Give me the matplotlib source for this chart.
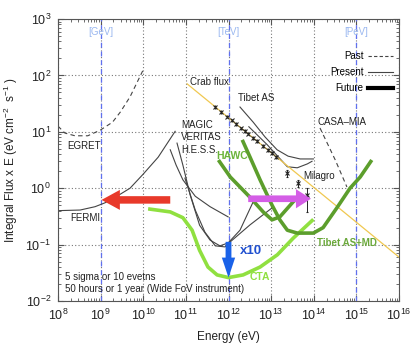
import matplotlib
matplotlib.use("Agg")
import matplotlib.pyplot as plt
from matplotlib.lines import Line2D

plt.rcParams['font.family'] = ['Liberation Sans', 'DejaVu Sans']
plt.rcParams['mathtext.fontset'] = 'custom'
plt.rcParams['mathtext.rm'] = 'Liberation Sans'
plt.rcParams['mathtext.it'] = 'Liberation Sans:italic'
plt.rcParams['mathtext.bf'] = 'Liberation Sans:bold'

# ---------------- data (energy in eV, flux in eV cm^-2 s^-1) ----------------
egret_E = [1.0e8, 1.45e8, 2.5e8, 5.0e8, 9.8e8, 1.9e9, 2.9e9, 4.9e9, 1.0e10]
egret_F = [12.6, 9.5, 8.5, 8.5, 10.7, 14.8, 22.4, 41.7, 126]

fermi_E = [1.0e8, 3.3e8, 7.4e8, 1.26e9, 2.2e9, 4.9e9, 1.0e10, 2.24e10, 5.6e10]
fermi_F = [0.40, 0.41, 0.47, 0.55, 0.69, 1.0, 1.78, 3.55, 10.2]

iact1_E = [4.3e10, 5.9e10, 8.5e10, 1.66e11, 3.7e11, 9.8e11]
iact1_F = [4.8, 2.57, 1.41, 0.72, 0.47, 0.31]

iact2_E = [6.2e10, 8.5e10, 1.26e11, 2.1e11, 3.7e11, 6.3e11, 9.8e11, 1.86e12, 3.8e12]
iact2_F = [6.3, 2.57, 0.76, 0.22, 0.12, 0.095, 0.107, 0.18, 0.575]

iact3_E = [9.5e10, 1.66e11, 2.8e11, 4.9e11, 8.3e11, 1.1e12, 3.2e12, 1.05e13]
iact3_F = [1.51, 0.41, 0.166, 0.095, 0.091, 0.112, 0.224, 0.447]

crab_line_E = [1.07e11, 1.0e16]
crab_line_F = [70.8, 0.060]

crab_pts_E = [4.9e11, 6.8e11, 9.3e11, 1.2e12, 1.5e12, 2.0e12, 2.45e12, 2.9e12,
              3.8e12, 4.7e12, 6.5e12, 8.5e12, 1.05e13, 1.32e13]
crab_pts_F = [27.7, 22.7, 18.6, 15.9, 13.8, 11.6, 10.3, 9.3, 7.8, 6.9, 5.6, 4.8, 4.2, 3.6]
crab_pts_err = [2.0, 1.6, 1.3, 1.1, 1.0, 0.8, 0.7, 0.7, 0.6, 0.5, 0.4, 0.4, 0.3, 0.3]

milagro_pts_E = [2.4e13, 4.3e13, 7.1e13]
milagro_pts_F = [1.86, 1.23, 0.76]
milagro_err_lo = [0.25, 0.18, 0.38]
milagro_err_hi = [0.25, 0.18, 0.24]

tibet_E = [1.86e12, 3.8e12, 7.2e12, 1.38e13, 2.5e13, 4.8e13, 9.8e13]
tibet_F = [27.5, 14.8, 8.1, 4.8, 3.7, 3.3, 3.3]

milagro_E = [3.0e12, 8.1e12, 2.4e13, 4.1e13, 7.1e13, 9.1e13]
milagro_F = [12.3, 5.9, 2.4, 2.3, 2.7, 3.0]

casa_E = [1.4e14, 3.2e14, 6.0e14]
casa_F = [11.7, 3.16, 1.05]

cta_E = [1.3e10, 4.3e10, 8.5e10, 1.4e11, 2.1e11, 3.3e11, 5.4e11, 1.0e12,
         2.2e12, 5.5e12, 1.4e13, 3.3e13, 9.8e13]
cta_F = [0.43, 0.38, 0.30, 0.18, 0.079, 0.040, 0.029, 0.026, 0.029, 0.040,
         0.066, 0.13, 0.28]

hawc_E = [5.8e11, 1.1e12, 3.2e12, 6.5e12, 1.05e13, 1.6e13, 3.3e13, 4.8e13]
hawc_F = [3.16, 1.58, 0.69, 0.38, 0.275, 0.31, 0.575, 0.76]

tibetmd_E = [2.1e12, 3.2e12, 5.5e12, 1.05e13, 1.6e13, 2.4e13, 4.1e13, 9.8e13,
             1.66e14, 3.5e14, 7.1e14, 1.23e15, 2.3e15]
tibetmd_F = [7.2, 3.55, 1.41, 0.50, 0.275, 0.18, 0.16, 0.16, 0.20, 0.45, 1.0, 1.58, 3.16]

unit_E = [1e9, 1e12, 1e15]
unit_labels = ['[GeV]', '[TeV]', '[PeV]']

# arrows: (start, end)
red_arrow = ((4.3e10, 0.62), (1.05e9, 0.62))
magenta_arrow = ((2.9e12, 0.65), (8.6e13, 0.65))
blue_arrow = ((1.0e12, 0.112), (1.0e12, 0.026))

# ---------------- figure ----------------
fig = plt.figure(figsize=(4.15, 3.46), dpi=100)
ax = fig.add_axes([58/415, 1-301/346, 341/415, 282/346])
ax.set_xscale('log')
ax.set_yscale('log')
ax.set_xlim(1e8, 1e16)
ax.set_ylim(1e-2, 1e3)

ax.grid(True, which='major', linestyle=(0, (1, 2)), color='#777777', lw=0.8)
for s in ax.spines.values():
    s.set_color('#555555')
    s.set_linewidth(0.8)
ax.tick_params(which='both', direction='in', top=True, right=True, colors='#555555',
               labelcolor='#222222', labelsize=9)
ax.tick_params(which='major', length=4, pad=5)
ax.tick_params(which='minor', length=2)
ax.set_xticks([10.0**k for k in range(8, 17)])
ax.set_yticks([10.0**k for k in range(-2, 4)])

for e, lab in zip(unit_E, unit_labels):
    ax.axvline(e, color='#6070f0', ls=(0, (4, 3)), lw=0.9, zorder=2)
    ax.text(e, 600, lab, color='#9bb8f0', fontsize=7, ha='center', va='center')

gray = '#444444'
ax.plot(egret_E, egret_F, color=gray, ls=(0, (4, 3)), lw=0.8)
ax.plot(casa_E, casa_F, color=gray, ls=(0, (4, 3)), lw=0.8)
ax.plot(fermi_E, fermi_F, color=gray, lw=0.8)
for xs, ys in [(iact1_E, iact1_F), (iact2_E, iact2_F), (iact3_E, iact3_F),
               (tibet_E, tibet_F), (milagro_E, milagro_F)]:
    ax.plot(xs, ys, color=gray, lw=0.8)

ax.plot(crab_line_E, crab_line_F, color='#f0c850', lw=0.9, zorder=3)
ax.errorbar(crab_pts_E, crab_pts_F, yerr=crab_pts_err, fmt='x', ms=3, mew=0.8,
            color='#222222', elinewidth=0.7, capsize=0, zorder=4)
ax.errorbar(milagro_pts_E, milagro_pts_F, yerr=[milagro_err_lo, milagro_err_hi],
            fmt='x', ms=3, mew=0.8, color='#222222', elinewidth=0.7, capsize=1, zorder=4)

ax.plot(cta_E, cta_F, color='#90e040', lw=2.6, solid_capstyle='butt', zorder=5)
ax.plot(hawc_E, hawc_F, color='#5c9e2c', lw=2.6, solid_capstyle='butt', zorder=5)
ax.plot(tibetmd_E, tibetmd_F, color='#5c9e2c', lw=2.6, solid_capstyle='butt', zorder=5)

def arrow(a, color, tw, hw, hl):
    ax.annotate('', xy=a[1], xytext=a[0],
                arrowprops=dict(arrowstyle=f'simple,head_length={hl},head_width={hw},tail_width={tw}',
                                color=color, lw=0, shrinkA=0, shrinkB=0, mutation_scale=12),
                zorder=6)

arrow(red_arrow, '#e8392a', 0.45, 1.2, 1.1)
arrow(magenta_arrow, '#d45ee6', 0.4, 1.15, 0.9)
arrow(blue_arrow, '#1a62e8', 0.35, 0.8, 1.2)

txt = dict(fontsize=7, color='#222222', va='center', ha='left')
ax.text(1.26e11, 75, 'Crab flux', **txt)
ax.text(1.7e12, 40, 'Tibet AS', **txt)
ax.text(1.2e14, 14.8, 'CASA\u2013MIA', **txt)
ax.text(5.6e13, 1.66, 'Milagro', **txt)
ax.text(7.8e10, 13.2, 'MAGIC', **txt)
ax.text(7.8e10, 8.1, 'VERITAS', **txt)
ax.text(7.8e10, 4.8, 'H.E.S.S.', **txt)
ax.text(1.62e8, 5.6, 'EGRET', **txt)
ax.text(1.9e8, 0.295, 'FERMI', **txt)
ax.text(1.45e8, 0.0265, '5 sigma or 10 evetns', **txt)
ax.text(1.45e8, 0.0165, '50 hours or 1 year (Wide FoV instrument)', **txt)
ax.text(5.1e11, 3.7, 'HAWC', fontsize=7.5, color='#6ab43a', fontweight='bold', va='center', ha='left')
ax.text(1.2e14, 0.108, 'Tibet AS+MD', fontsize=7, color='#6aa83a', fontweight='bold', va='center', ha='left')
ax.text(3.2e12, 0.027, 'CTA', fontsize=7.5, color='#90e040', fontweight='bold', va='center', ha='left')
ax.text(1.86e12, 0.078, 'x10', fontsize=9.5, color='#2050d0', fontweight='bold', va='center', ha='left')

handles = [Line2D([], [], color=gray, ls=(0, (3, 2)), lw=0.8),
           Line2D([], [], color=gray, lw=0.8),
           Line2D([], [], color='black', lw=3)]
ax.legend(handles, ['Past', 'Present', 'Future'], loc='upper right',
          bbox_to_anchor=(0.982, 0.885), frameon=False, markerfirst=False,
          fontsize=7, handlelength=2.6, handletextpad=0.4, labelspacing=0.6,
          borderpad=0, borderaxespad=0)

ax.set_xlabel('Energy (eV)', fontsize=8.5, color='#222222', labelpad=6)
ax.set_ylabel('Integral Flux x E (eV cm$^{-2}$  s$^{-1}$ )', fontsize=8.5, color='#222222', labelpad=4)

fig.savefig('out.png', dpi=100)
